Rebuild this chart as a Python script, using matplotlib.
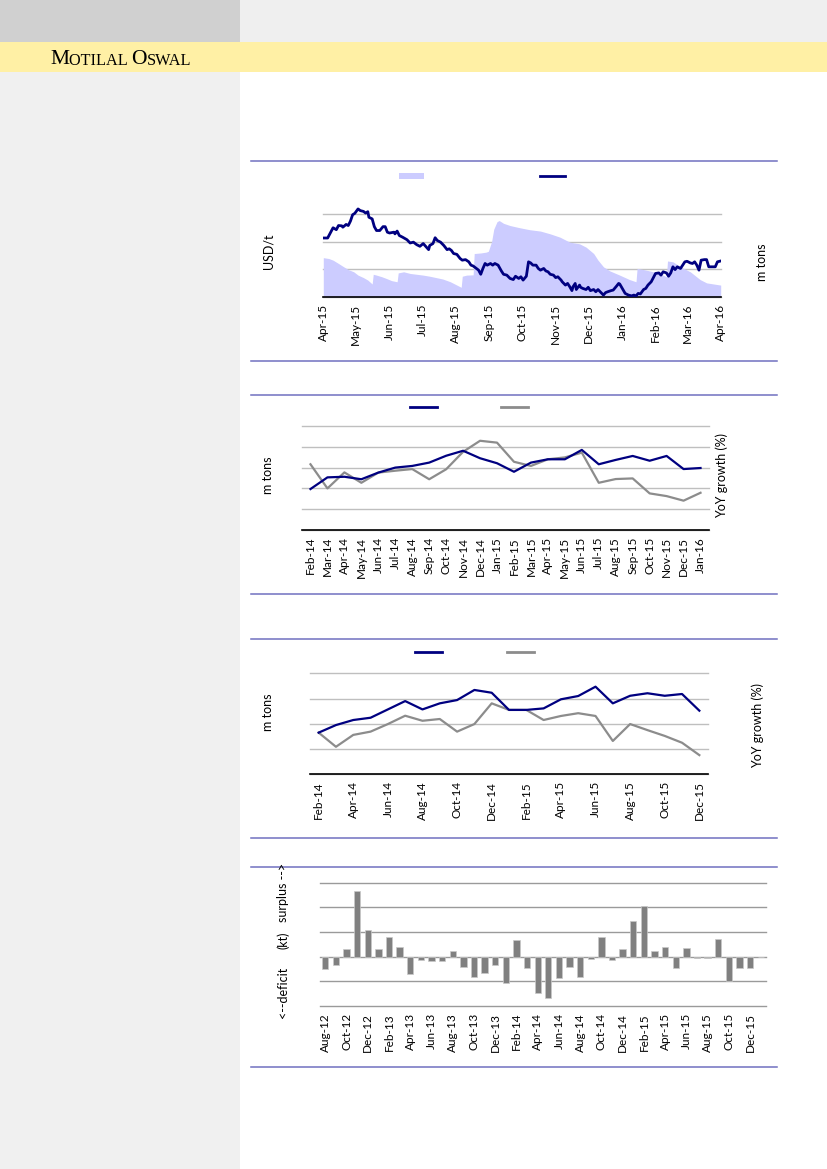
import numpy as np
import pandas as pd
import matplotlib
matplotlib.use("Agg")
import matplotlib.pyplot as plt
import matplotlib.dates as mdates
from matplotlib.patches import Rectangle, Patch
from matplotlib.lines import Line2D

W, H = 827, 1169

# --- chart 1: price vs exchange stocks, Apr-15 .. Apr-16 ---
# days since 1-Apr-2015; values read off in gridline units (chart has no tick numbers)
price_days = [0, 4, 6, 9, 12, 14, 17, 18, 21, 23, 25, 27, 29, 32, 34, 37, 39, 41, 42, 45,
              47, 49, 52, 55, 57, 59, 61, 65, 66, 68, 70, 73, 77, 80, 83, 86, 89, 92, 95, 97,
              98, 101, 103, 105, 108, 111, 114, 116, 118, 120, 123, 126, 128, 131, 134, 136, 138, 141, 143, 145,
              147, 149, 151, 154, 156, 158, 161, 164, 166, 169, 172, 175, 177, 180, 182, 184, 187, 189, 191, 193,
              196, 198, 200, 203, 205, 207, 209, 212, 214, 216, 219, 220, 223, 225, 227, 229, 230, 232, 233, 236,
              237, 239, 242, 244, 246, 249, 251, 253, 255, 258, 260, 262, 265, 267, 270, 272, 273, 276, 278, 281,
              284, 286, 288, 290, 292, 295, 297, 299, 302, 304, 306, 309, 311, 313, 316, 318, 320, 322, 324, 326,
              329, 331, 333, 335, 338, 340, 342, 344, 346, 348, 351, 353, 355, 358, 361, 363, 366]
price = [2.13, 2.13, 2.28, 2.50, 2.43, 2.58, 2.57, 2.52, 2.62, 2.58, 2.74, 2.97, 3.02, 3.18, 3.12, 3.09, 3.03, 3.08, 2.88, 2.82,
         2.54, 2.40, 2.40, 2.54, 2.54, 2.34, 2.31, 2.34, 2.28, 2.38, 2.22, 2.16, 2.07, 1.95, 1.98, 1.89, 1.83, 1.93, 1.80, 1.71,
         1.86, 1.93, 2.14, 2.04, 1.98, 1.86, 1.71, 1.74, 1.68, 1.57, 1.54, 1.39, 1.33, 1.35, 1.27, 1.15, 1.12, 1.03, 0.97, 0.82,
         1.03, 1.21, 1.15, 1.21, 1.15, 1.21, 1.15, 0.94, 0.82, 0.79, 0.67, 0.63, 0.75, 0.67, 0.73, 0.61, 0.75, 1.27, 1.23, 1.15,
         1.15, 1.03, 0.97, 1.03, 0.94, 0.91, 0.82, 0.79, 0.70, 0.73, 0.61, 0.55, 0.43, 0.49, 0.37, 0.23, 0.37, 0.49, 0.27, 0.43,
         0.35, 0.31, 0.27, 0.35, 0.23, 0.27, 0.19, 0.27, 0.19, 0.07, 0.16, 0.19, 0.23, 0.25, 0.39, 0.49, 0.47, 0.27, 0.13, 0.07,
         0.04, 0.07, 0.04, 0.13, 0.11, 0.27, 0.31, 0.43, 0.55, 0.70, 0.85, 0.87, 0.79, 0.91, 0.87, 0.75, 0.87, 1.09, 0.99, 1.09,
         1.03, 1.15, 1.27, 1.29, 1.23, 1.21, 1.27, 1.15, 0.97, 1.33, 1.35, 1.35, 1.09, 1.09, 1.09, 1.27, 1.30]
stock_days = [0, 5, 9, 14, 18, 23, 28, 32, 37, 41, 45, 46, 49, 54, 58, 63, 68, 69, 74, 80,
              86, 92, 98, 104, 110, 117, 123, 127, 128, 132, 138, 139, 145, 150, 152, 155, 157, 160, 162, 166,
              172, 181, 190, 200, 209, 218, 227, 236, 242, 249, 253, 258, 264, 273, 282, 288, 289, 295, 304, 313,
              316, 317, 322, 329, 338, 347, 353, 366]
stocks = [1.42, 1.39, 1.33, 1.21, 1.11, 0.99, 0.91, 0.79, 0.70, 0.61, 0.47, 0.82, 0.79, 0.73, 0.67, 0.59, 0.55, 0.87, 0.91, 0.85,
          0.82, 0.79, 0.75, 0.70, 0.65, 0.55, 0.43, 0.35, 0.75, 0.79, 0.80, 1.57, 1.59, 1.62, 1.65, 2.00, 2.45, 2.72, 2.76, 2.66,
          2.58, 2.50, 2.43, 2.38, 2.28, 2.16, 1.98, 1.92, 1.80, 1.57, 1.33, 1.09, 0.94, 0.79, 0.63, 0.55, 1.03, 0.99, 0.91, 0.79,
          0.73, 1.30, 1.27, 1.09, 0.91, 0.63, 0.51, 0.43]

# --- chart 2: monthly volume (m tons) and YoY growth ---
c2_months = ["Feb-14", "Mar-14", "Apr-14", "May-14", "Jun-14", "Jul-14", "Aug-14", "Sep-14",
             "Oct-14", "Nov-14", "Dec-14", "Jan-15", "Feb-15", "Mar-15", "Apr-15", "May-15",
             "Jun-15", "Jul-15", "Aug-15", "Sep-15", "Oct-15", "Nov-15", "Dec-15", "Jan-16"]
c2_volume = [1.97, 2.53, 2.56, 2.44, 2.76, 3.00, 3.08, 3.24, 3.57, 3.81, 3.45, 3.21,
             2.80, 3.24, 3.40, 3.40, 3.85, 3.16, 3.37, 3.56, 3.33, 3.56, 2.93, 2.98]
c2_yoy = [3.16, 2.00, 2.77, 2.27, 2.76, 2.85, 2.93, 2.44, 2.92, 3.76, 4.29, 4.20,
          3.28, 3.08, 3.40, 3.49, 3.72, 2.27, 2.45, 2.48, 1.76, 1.63, 1.41, 1.79]

# --- chart 3: monthly volume (m tons) and YoY growth ---
c3_months = ["Feb-14", "Mar-14", "Apr-14", "May-14", "Jun-14", "Jul-14", "Aug-14", "Sep-14",
             "Oct-14", "Nov-14", "Dec-14", "Jan-15", "Feb-15", "Mar-15", "Apr-15", "May-15",
             "Jun-15", "Jul-15", "Aug-15", "Sep-15", "Oct-15", "Nov-15", "Dec-15"]
c3_volume = [1.65, 1.95, 2.15, 2.24, 2.57, 2.90, 2.57, 2.81, 2.94, 3.34, 3.23, 2.55,
             2.55, 2.61, 2.97, 3.10, 3.47, 2.81, 3.11, 3.21, 3.11, 3.18, 2.52]
c3_yoy = [1.65, 1.09, 1.56, 1.69, 1.99, 2.32, 2.12, 2.19, 1.69, 1.99, 2.81, 2.55,
          2.55, 2.15, 2.31, 2.42, 2.31, 1.32, 1.99, 1.75, 1.52, 1.25, 0.76]

# --- chart 4: market balance (kt), deficit < 0 < surplus ---
c4_months = ["Aug-12", "Sep-12", "Oct-12", "Nov-12", "Dec-12", "Jan-13", "Feb-13", "Mar-13",
             "Apr-13", "May-13", "Jun-13", "Jul-13", "Aug-13", "Sep-13", "Oct-13", "Nov-13",
             "Dec-13", "Jan-14", "Feb-14", "Mar-14", "Apr-14", "May-14", "Jun-14", "Jul-14",
             "Aug-14", "Sep-14", "Oct-14", "Nov-14", "Dec-14", "Jan-15", "Feb-15", "Mar-15",
             "Apr-15", "May-15", "Jun-15", "Jul-15", "Aug-15", "Sep-15", "Oct-15", "Nov-15",
             "Dec-15", "Jan-16"]
c4_balance = [-0.51, -0.34, 0.30, 2.66, 1.07, 0.33, 0.79, 0.41, -0.72, -0.13, -0.18, -0.17,
              0.25, -0.43, -0.84, -0.67, -0.35, -1.08, 0.67, -0.47, -1.48, -1.66, -0.87, -0.43,
              -0.81, -0.11, 0.78, -0.13, 0.32, 1.45, 2.04, 0.24, 0.40, -0.47, 0.36, -0.05,
              -0.05, 0.70, -0.97, -0.47, -0.47, -0.03]

NAVY = "#000080"
GREY = "#8c8c8c"
LAV = "#ccccff"
SEP = "#7070c0"
TICK_FS = 8.5
LAB_FS = 9

plt.rcParams["font.family"] = ["Lato", "DejaVu Sans"]
fig = plt.figure(figsize=(W / 100, H / 100), dpi=100)


def rect(x0, y0, x1, y1):
    # pixel box -> figure fraction
    return [x0 / W, 1 - y1 / H, (x1 - x0) / W, (y1 - y0) / H]


def style(ax, grid="#bfbfbf", base=True):
    for s in ["top", "right", "left"]:
        ax.spines[s].set_visible(False)
    if base:
        ax.spines["bottom"].set_color("black")
        ax.spines["bottom"].set_linewidth(1.2)
    else:
        ax.spines["bottom"].set_visible(False)
    ax.tick_params(axis="y", left=False, labelleft=False)
    ax.tick_params(axis="x", length=0, pad=5, labelsize=TICK_FS, labelrotation=90)
    ax.yaxis.grid(True, color=grid, lw=1)
    for gl in ax.get_ygridlines():
        gl.set_clip_on(False)
    ax.set_axisbelow(True)
    ax.patch.set_alpha(0)


# page background, pixel coordinates
bg = fig.add_axes([0, 0, 1, 1], zorder=-1)
bg.set_xlim(0, W)
bg.set_ylim(H, 0)
bg.axis("off")
bg.add_patch(Rectangle((0, 0), 240, 42, color="#d0d0d0", lw=0))
bg.add_patch(Rectangle((240, 0), W - 240, 42, color="#efefef", lw=0))
bg.add_patch(Rectangle((0, 42), W, 30, color="#fff0a5", lw=0))
bg.add_patch(Rectangle((0, 72), 240, H - 72, color="#f0f0f0", lw=0))

# small caps logo
t = bg.text(50, 64, "M", fontsize=15.5, family="Liberation Serif", va="baseline")
for part, fs in [("OTILAL ", 11.7), ("O", 15.5), ("SWAL", 11.7)]:
    t = bg.annotate(part, xy=(1, 0), xycoords=t, fontsize=fs, family="Liberation Serif", va="bottom")

for y in [161, 361, 395, 594, 639, 838, 867, 1067]:
    bg.plot([251, 777], [y, y], color=SEP, lw=1.1)

# axis titles
lab = dict(rotation=90, ha="center", va="center", fontsize=LAB_FS)
bg.text(268, 251, "USD/t", **lab)
bg.text(762, 262, "m tons", **lab)
bg.text(268, 475, "m tons", **lab)
bg.text(722, 476, "YoY growth (%)", **lab)
bg.text(268, 712, "m tons", **lab)
bg.text(758, 726, "YoY growth (%)", **lab)
bg.text(283, 992, "<--deficit", **lab)
bg.text(283, 940, "(kt)", **lab)
bg.text(283, 892, "surplus -->", **lab)

# chart 1
d0 = pd.Timestamp("2015-04-01")
p_dates = d0 + pd.to_timedelta(price_days, unit="D")
s_dates = d0 + pd.to_timedelta(stock_days, unit="D")
ax1 = fig.add_axes(rect(323.3, 205.6, 720.7, 297))
ax1.fill_between(s_dates, stocks, color=LAV, lw=0, zorder=1)
ax1.plot(p_dates, price, color=NAVY, lw=2.0, zorder=3)
ax1.set_xlim(d0, pd.Timestamp("2016-04-01"))
ax1.set_ylim(0, 3.3)
ax1.set_yticks([0, 1, 2, 3])
ax1.xaxis.set_major_locator(mdates.MonthLocator())
ax1.xaxis.set_major_formatter(mdates.DateFormatter("%b-%y"))
style(ax1)
fig.legend([Patch(facecolor=LAV, edgecolor="none"), Line2D([], [], color=NAVY, lw=2)], ["", ""],
           loc="center", bbox_to_anchor=(482 / W, 1 - 177 / H), ncol=2, frameon=False,
           fontsize=7.5, handlelength=2.4, handleheight=0.5, handletextpad=0, columnspacing=11.2)

# chart 2
x2 = np.arange(len(c2_months))
ax2 = fig.add_axes(rect(302, 426, 709, 530))
ax2.plot(x2, c2_volume, color=NAVY, lw=1.6, zorder=3)
ax2.plot(x2, c2_yoy, color=GREY, lw=1.6, zorder=2)
ax2.set_xlim(-0.5, len(c2_months) - 0.5)
ax2.set_ylim(0, 5)
ax2.set_yticks(range(6))
ax2.set_xticks(x2, c2_months)
style(ax2)
fig.legend([Line2D([], [], color=NAVY, lw=2), Line2D([], [], color=GREY, lw=2)], ["", ""],
           loc="center", bbox_to_anchor=(469 / W, 1 - 408 / H), ncol=2, frameon=False,
           fontsize=7.5, handlelength=2.6, handletextpad=0, columnspacing=6.1)

# chart 3
x3 = np.arange(len(c3_months))
ax3 = fig.add_axes(rect(310, 673.3, 708, 774.3))
ax3.plot(x3, c3_volume, color=NAVY, lw=1.6, zorder=3)
ax3.plot(x3, c3_yoy, color=GREY, lw=1.6, zorder=2)
ax3.set_xlim(-0.5, len(c3_months) - 0.5)
ax3.set_ylim(0, 4)
ax3.set_yticks(range(5))
ax3.set_xticks(x3[::2], c3_months[::2])
style(ax3)
fig.legend([Line2D([], [], color=NAVY, lw=2), Line2D([], [], color=GREY, lw=2)], ["", ""],
           loc="center", bbox_to_anchor=(474.5 / W, 1 - 653 / H), ncol=2, frameon=False,
           fontsize=7.5, handlelength=2.6, handletextpad=0, columnspacing=6.2)

# chart 4
x4 = np.arange(len(c4_months))
ax4 = fig.add_axes(rect(320, 882.7, 766, 1006))
ax4.bar(x4, c4_balance, width=0.6, color="#808080", edgecolor="#c8c8c8", lw=0.5, zorder=3)
ax4.set_xlim(-0.5, len(c4_months) - 0.5)
ax4.set_ylim(-2, 3)
ax4.set_yticks(range(-2, 4))
ax4.set_xticks(x4[::2], c4_months[::2])
style(ax4, grid="#9a9a9a", base=False)

fig.savefig("out.png", dpi=100)
